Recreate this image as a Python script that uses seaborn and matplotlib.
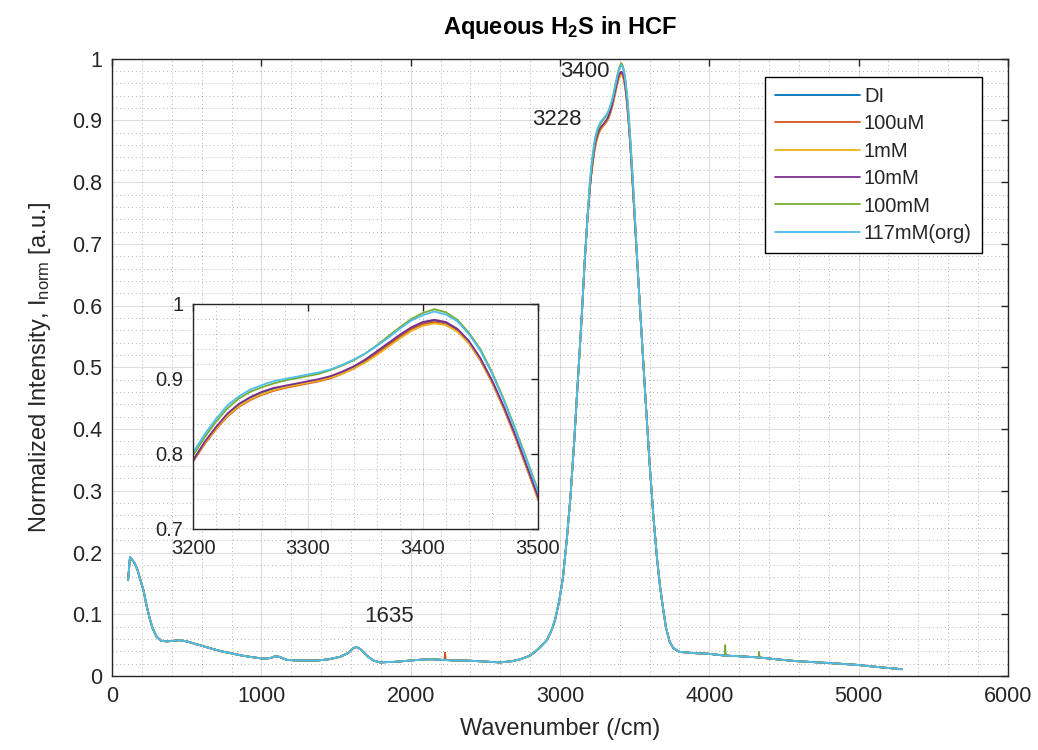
import pandas as pd
import seaborn as sns
import matplotlib.pyplot as plt
from matplotlib.ticker import MultipleLocator

# sample names and MATLAB default line colours
samples = ['DI', '100uM', '1mM', '10mM', '100mM', '117mM(org)']
colors = ['#0072BD', '#D95319', '#EDB120', '#7E2F8E', '#77AC30', '#4DBEEE']

# shared part of the spectrum (outside 3200-3500)
wn_low = [107, 120, 135, 150, 170, 190, 210, 230, 250, 270, 299, 330, 366, 410, 455,
          500, 543, 600, 656, 730, 812, 870, 924, 1013, 1060, 1092, 1120, 1170, 1250,
          1371, 1450, 1527, 1580, 1615, 1639, 1665, 1706, 1750, 1795, 1900, 1996, 2100,
          2152, 2218, 2300, 2376, 2450, 2520, 2599, 2680, 2733, 2790, 2822, 2860, 2912,
          2945, 2967, 2996, 3020, 3045, 3070, 3095, 3120, 3145, 3165, 3185]
int_low = [0.155, 0.193, 0.188, 0.183, 0.172, 0.155, 0.139, 0.115, 0.095, 0.078, 0.063,
           0.057, 0.056, 0.057, 0.058, 0.056, 0.053, 0.049, 0.045, 0.040, 0.036, 0.033,
           0.031, 0.028, 0.029, 0.032, 0.031, 0.026, 0.025, 0.025, 0.027, 0.031, 0.037,
           0.045, 0.047, 0.043, 0.033, 0.025, 0.022, 0.023, 0.025, 0.027, 0.027, 0.026,
           0.025, 0.025, 0.024, 0.023, 0.022, 0.024, 0.027, 0.032, 0.037, 0.045, 0.058,
           0.075, 0.091, 0.123, 0.16, 0.22, 0.29, 0.38, 0.48, 0.58, 0.67, 0.745]
wn_high = [3525, 3550, 3575, 3600, 3625, 3650, 3670, 3690, 3710, 3735, 3760, 3800, 3850,
           3900, 3992, 4106, 4200, 4333, 4450, 4586, 4800, 4988, 5150, 5289]
int_high = [0.64, 0.54, 0.44, 0.345, 0.26, 0.19, 0.145, 0.11, 0.078, 0.055, 0.045, 0.039,
            0.038, 0.037, 0.036, 0.033, 0.032, 0.030, 0.027, 0.024, 0.021, 0.018, 0.014,
            0.011]

# O-H band top, per sample
wn_peak = [3200, 3210, 3220, 3230, 3240, 3250, 3260, 3270, 3280, 3290, 3300, 3310, 3320,
           3330, 3340, 3350, 3360, 3370, 3380, 3390, 3400, 3410, 3420, 3430, 3440, 3450,
           3460, 3470, 3480, 3490, 3500]
peak_DI = [0.792, 0.815, 0.835, 0.853, 0.866, 0.875, 0.882, 0.887, 0.890, 0.893, 0.896,
           0.899, 0.903, 0.909, 0.916, 0.925, 0.936, 0.947, 0.958, 0.968, 0.975, 0.978,
           0.975, 0.966, 0.950, 0.927, 0.898, 0.864, 0.826, 0.785, 0.743]
peak_100uM = [0.790, 0.813, 0.833, 0.850, 0.863, 0.872, 0.879, 0.884, 0.888, 0.891, 0.894,
              0.897, 0.901, 0.907, 0.914, 0.923, 0.934, 0.945, 0.956, 0.966, 0.973, 0.976,
              0.973, 0.964, 0.948, 0.925, 0.896, 0.862, 0.824, 0.783, 0.741]
peak_1mM = [0.791, 0.814, 0.834, 0.851, 0.864, 0.873, 0.880, 0.885, 0.889, 0.892, 0.895,
            0.898, 0.902, 0.907, 0.914, 0.922, 0.932, 0.943, 0.954, 0.964, 0.971, 0.974,
            0.972, 0.963, 0.948, 0.926, 0.897, 0.863, 0.825, 0.784, 0.742]
peak_10mM = [0.791, 0.816, 0.836, 0.854, 0.867, 0.876, 0.883, 0.888, 0.891, 0.894, 0.897,
             0.900, 0.904, 0.910, 0.917, 0.926, 0.937, 0.948, 0.959, 0.969, 0.976, 0.979,
             0.976, 0.967, 0.951, 0.928, 0.899, 0.865, 0.827, 0.786, 0.744]
peak_100mM = [0.798, 0.822, 0.843, 0.861, 0.874, 0.883, 0.889, 0.894, 0.898, 0.901, 0.904,
              0.907, 0.912, 0.918, 0.925, 0.934, 0.945, 0.957, 0.969, 0.980, 0.988, 0.993,
              0.989, 0.979, 0.962, 0.940, 0.910, 0.875, 0.836, 0.795, 0.753]
peak_117mM = [0.802, 0.826, 0.847, 0.865, 0.877, 0.886, 0.892, 0.897, 0.900, 0.903, 0.906,
              0.909, 0.913, 0.919, 0.926, 0.934, 0.944, 0.955, 0.967, 0.978, 0.985, 0.990,
              0.986, 0.977, 0.960, 0.938, 0.908, 0.873, 0.834, 0.793, 0.751]
peaks = [peak_DI, peak_100uM, peak_1mM, peak_10mM, peak_100mM, peak_117mM]

# little spikes that only some samples have
spike_wn = {'100uM': [2226, 2230, 2234],
            '100mM': [4102, 4106, 4110, 4329, 4333, 4337]}
spike_int = {'100uM': [0.026, 0.038, 0.026],
             '100mM': [0.033, 0.050, 0.033, 0.030, 0.039, 0.030]}

frames = []
for name, pk in zip(samples, peaks):
    x = wn_low + wn_peak + wn_high + spike_wn.get(name, [])
    y = int_low + pk + int_high + spike_int.get(name, [])
    frames.append(pd.DataFrame({'Wavenumber': x, 'Intensity': y, 'Sample': name}))
df = pd.concat(frames).sort_values(['Sample', 'Wavenumber'])

sns.set_theme(style='white')
plt.rcParams['font.family'] = ['Liberation Sans', 'DejaVu Sans']
plt.rcParams['mathtext.fontset'] = 'custom'
plt.rcParams['mathtext.rm'] = 'Liberation Sans'
plt.rcParams['mathtext.bf'] = 'Liberation Sans:bold'
plt.rcParams['mathtext.default'] = 'regular'
dark = '#262626'


def style_axes(a, major_x, minor_x, fs):
    a.xaxis.set_major_locator(MultipleLocator(major_x))
    a.xaxis.set_minor_locator(MultipleLocator(minor_x))
    a.yaxis.set_major_locator(MultipleLocator(0.1))
    a.yaxis.set_minor_locator(MultipleLocator(0.02))
    a.grid(which='major', color=dark, alpha=0.15, lw=0.8)
    a.grid(which='minor', color=dark, alpha=0.35, lw=0.7, ls=(0, (1, 3)))
    a.set_axisbelow(True)
    a.tick_params(which='major', direction='in', length=5, width=1, color=dark,
                  top=True, right=True, labelsize=fs, labelcolor=dark, pad=7)
    a.tick_params(which='minor', length=0)
    for s in a.spines.values():
        s.set_color(dark)
        s.set_linewidth(1.0)
    a.yaxis.set_major_formatter(plt.FuncFormatter(lambda v, p: f'{v:g}'))


fig = plt.figure(figsize=(10.38, 7.5), dpi=100)
ax = fig.add_axes([0.108, 0.0987, 0.863, 0.823])
sns.lineplot(data=df, x='Wavenumber', y='Intensity', hue='Sample', hue_order=samples,
             palette=colors, estimator=None, sort=False, lw=1.3, ax=ax)
ax.set_xlim(0, 6000)
ax.set_ylim(0, 1)
style_axes(ax, 1000, 200, 15.5)
ax.set_xlabel('Wavenumber (/cm)', fontsize=17, color=dark, labelpad=8)
ax.set_ylabel(r'Normalized Intensity, I$_{norm}$ [a.u.]', fontsize=17, color=dark,
              labelpad=14)
ax.set_title(r'Aqueous H$_{\mathbf{2}}$S in HCF', fontsize=17, fontweight='bold',
             color='black', pad=18)

ax.text(3000, 0.979, '3400', fontsize=16, va='center', color=dark)
ax.text(2813, 0.901, '3228', fontsize=16, va='center', color=dark)
ax.text(1852, 0.096, '1635', fontsize=16, va='center', ha='center', color=dark)

handles, labels = ax.get_legend_handles_labels()
leg = ax.legend(handles, labels, loc='upper right', bbox_to_anchor=(0.971, 0.971),
                borderaxespad=0, fancybox=False, framealpha=1, edgecolor='black',
                fontsize=14.5, handlelength=4.2, labelspacing=0.42, handletextpad=0.2,
                borderpad=0.5)
leg.get_frame().set_linewidth(1.0)
for line in leg.get_lines():
    line.set_linewidth(1.3)

# zoomed inset on the band top
axins = fig.add_axes([0.186, 0.2947, 0.332, 0.30])
sns.lineplot(data=df, x='Wavenumber', y='Intensity', hue='Sample', hue_order=samples,
             palette=colors, estimator=None, sort=False, lw=1.3, ax=axins, legend=False)
axins.set_xlim(3200, 3500)
axins.set_ylim(0.7, 1)
style_axes(axins, 100, 20, 14.5)
axins.set_xlabel('')
axins.set_ylabel('')
axins.set_facecolor('white')

plt.savefig('out.png', dpi=100)
